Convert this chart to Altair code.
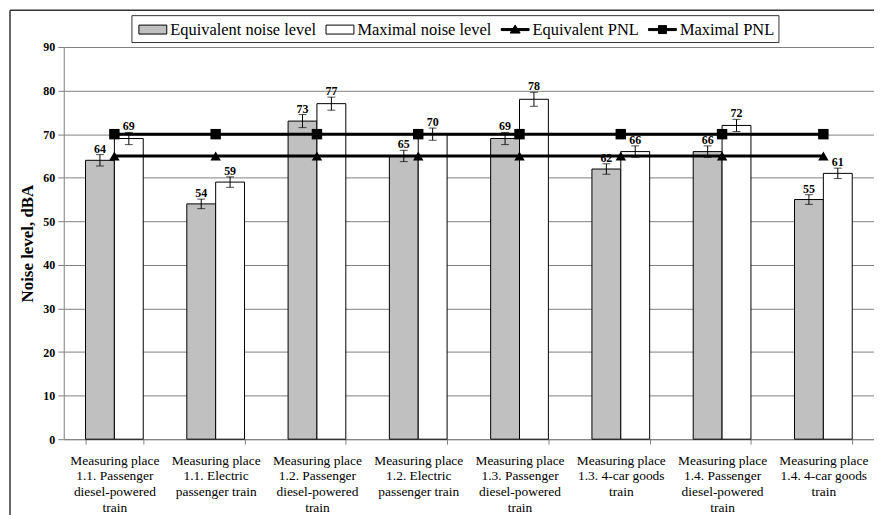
import altair as alt
import pandas as pd

categories = [
    "Measuring place|1.1. Passenger|diesel-powered|train",
    "Measuring place|1.1. Electric|passenger train",
    "Measuring place|1.2. Passenger|diesel-powered|train",
    "Measuring place|1.2. Electric|passenger train",
    "Measuring place|1.3. Passenger|diesel-powered|train",
    "Measuring place|1.3. 4-car goods|train",
    "Measuring place|1.4. Passenger|diesel-powered|train",
    "Measuring place|1.4. 4-car goods|train",
]
bar_series = ["Equivalent noise level", "Maximal noise level"]
line_series = ["Equivalent PNL", "Maximal PNL"]
all_series = bar_series + line_series
series_colors = ["#c0c0c0", "#ffffff", "#000000", "#000000"]

equivalent = [64, 54, 73, 65, 69, 62, 66, 55]
maximal = [69, 59, 77, 70, 78, 66, 72, 61]
equivalent_err = [1.3, 1.1, 1.5, 1.3, 1.4, 1.2, 1.3, 1.1]
maximal_err = [1.4, 1.2, 1.5, 1.4, 1.6, 1.3, 1.4, 1.2]
pnl_equivalent = [65, 65, 65, 65, 65, 65, 65, 65]
pnl_maximal = [70, 70, 70, 70, 70, 70, 70, 70]

rows = []
for i, c in enumerate(categories):
    rows.append({"cat": c, "series": bar_series[0], "value": equivalent[i], "err": equivalent_err[i]})
    rows.append({"cat": c, "series": bar_series[1], "value": maximal[i], "err": maximal_err[i]})
bar_df = pd.DataFrame(rows)
bar_df["lo"] = bar_df["value"] - bar_df["err"]
bar_df["hi"] = bar_df["value"] + bar_df["err"]

lrows = []
for i, c in enumerate(categories):
    lrows.append({"cat": c, "series": line_series[0], "value": pnl_equivalent[i]})
    lrows.append({"cat": c, "series": line_series[1], "value": pnl_maximal[i]})
line_df = pd.DataFrame(lrows)

FONT = "Liberation Serif"
GRAY = "#808080"

rect_path = "M-0.7,-0.45H2.1V0.45H-0.7Z"
tri_path = "M-0.7,-0.1H2.1V0.1H-0.7ZM0.7,-0.45L1.2,0.35L0.2,0.35Z"
sq_path = "M-0.7,-0.1H2.1V0.1H-0.7ZM0.3,-0.4H1.1V0.4H0.3Z"
sym_expr = (
    "datum.value == 'Equivalent PNL' ? '" + tri_path + "' : "
    "datum.value == 'Maximal PNL' ? '" + sq_path + "' : '" + rect_path + "'"
)

x_enc = alt.X(
    "cat:N",
    sort=categories,
    scale=alt.Scale(paddingInner=0.43, paddingOuter=0.215),
    axis=alt.Axis(
        title=None, labelAngle=0, labelExpr="split(datum.label, '|')",
        labelFont=FONT, labelFontSize=13.5, labelColor="black", labelLineHeight=16,
        labelBaseline="top", labelPadding=9, labelOverlap=False, labelLimit=200,
        tickBand="extent", tickSize=5, tickColor=GRAY, domainColor=GRAY, grid=False,
    ),
)
y_scale = alt.Scale(domain=[0, 90], nice=False)
y_axis = alt.Axis(
    title="Noise level, dBA", values=list(range(0, 91, 10)),
    labelFont=FONT, labelFontWeight="bold", labelFontSize=12, labelColor="black",
    labelPadding=3, tickSize=6, tickColor=GRAY, domainColor=GRAY,
    grid=True, gridColor=GRAY, gridWidth=1,
    titleFont=FONT, titleFontWeight="bold", titleFontSize=17, titleColor="black",
    titleX=-36, titleY=197, titleAngle=-90, titleBaseline="middle", titleAlign="center",
)
xoff = alt.XOffset("series:N", sort=bar_series, scale=alt.Scale(paddingInner=0, paddingOuter=0))

bars = alt.Chart(bar_df).mark_bar(stroke="black", strokeWidth=1).encode(
    x=x_enc,
    xOffset=xoff,
    y=alt.Y("value:Q", scale=y_scale, axis=y_axis),
    color=alt.Color(
        "series:N",
        scale=alt.Scale(domain=all_series, range=series_colors),
        legend=alt.Legend(
            title=None, orient="none", legendX=68, legendY=-32,
            direction="horizontal", columns=4,
            symbolSize=400, symbolType=alt.ExprRef(expr=sym_expr),
            symbolStrokeColor="black", symbolStrokeWidth=1,
            labelFont=FONT, labelFontSize=16.5, labelColor="black", labelOffset=14,
            labelLimit=300, padding=4, columnPadding=6,
            strokeColor="#333333", fillColor="white",
        ),
    ),
)

lines = alt.Chart(line_df).mark_line(color="black", strokeWidth=3).encode(
    x=alt.X("cat:N", sort=categories),
    y=alt.Y("value:Q", scale=y_scale),
    detail="series:N",
)
points = alt.Chart(line_df).mark_point(filled=True, color="black", opacity=1, size=110).encode(
    x=alt.X("cat:N", sort=categories),
    y=alt.Y("value:Q", scale=y_scale),
    shape=alt.Shape("series:N", scale=alt.Scale(domain=line_series, range=["triangle-up", "square"]), legend=None),
)

err_rules = alt.Chart(bar_df).mark_rule(color="black", strokeWidth=1).encode(
    x=alt.X("cat:N", sort=categories), xOffset=xoff,
    y=alt.Y("lo:Q", scale=y_scale), y2="hi:Q",
)
cap_lo = alt.Chart(bar_df).mark_tick(color="black", thickness=1, size=8, orient="horizontal").encode(
    x=alt.X("cat:N", sort=categories), xOffset=xoff, y=alt.Y("lo:Q", scale=y_scale),
)
cap_hi = alt.Chart(bar_df).mark_tick(color="black", thickness=1, size=8, orient="horizontal").encode(
    x=alt.X("cat:N", sort=categories), xOffset=xoff, y=alt.Y("hi:Q", scale=y_scale),
)
labels = alt.Chart(bar_df).mark_text(
    font=FONT, fontWeight="bold", fontSize=12, color="black", baseline="alphabetic", dy=-2
).encode(
    x=alt.X("cat:N", sort=categories), xOffset=xoff,
    y=alt.Y("hi:Q", scale=y_scale), text=alt.Text("value:Q"),
)

frame_df = pd.DataFrame({"k": [0]})
frame_left = alt.Chart(frame_df).mark_rule(color="#333333", strokeWidth=1.5).encode(
    x=alt.value(-54), y=alt.value(-37), y2=alt.value(600)
)
frame_top = alt.Chart(frame_df).mark_rule(color="#333333", strokeWidth=1.5).encode(
    x=alt.value(-54), x2=alt.value(900), y=alt.value(-37)
)

chart = alt.layer(
    bars, lines, points, err_rules, cap_lo, cap_hi, labels, frame_left, frame_top
).properties(
    width=814, height=394,
    padding={"left": 56, "top": 38, "right": 0, "bottom": 80},
    autosize=alt.AutoSizeParams(type="none"),
).configure(font=FONT).configure_view(stroke=None)

chart.save("out.html", embed_options={"renderer": "svg", "actions": False})
